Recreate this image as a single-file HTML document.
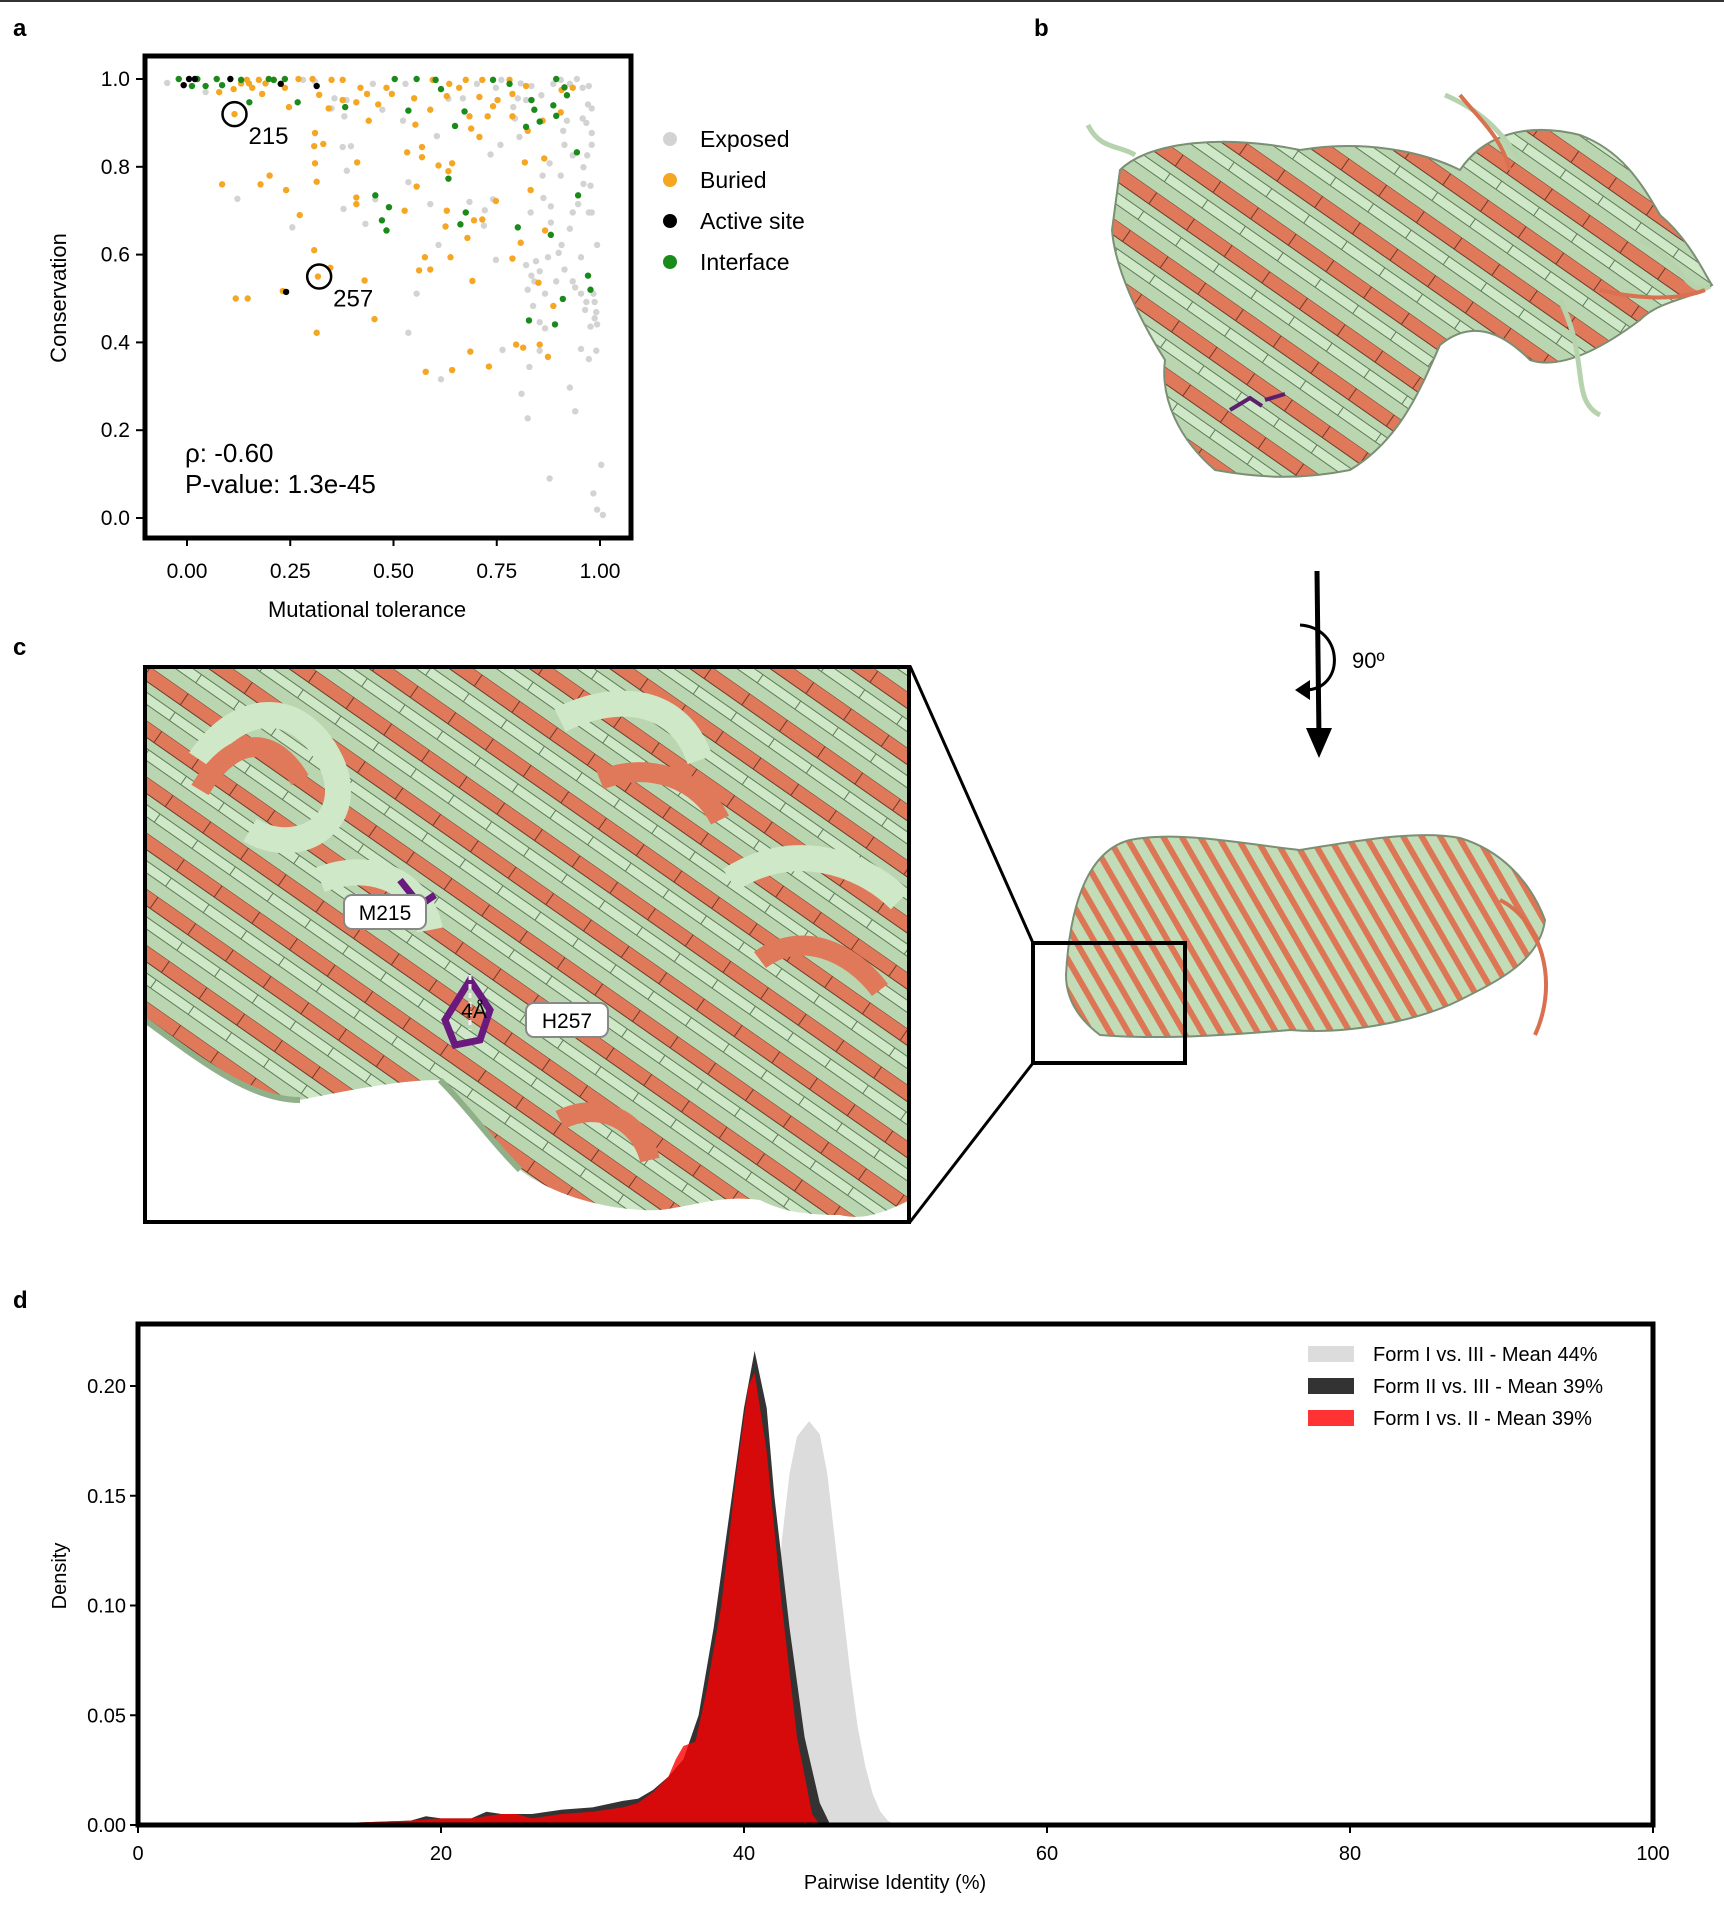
<!DOCTYPE html>
<html><head><meta charset="utf-8">
<style>
html,body{margin:0;padding:0;background:#fff;}
body{width:1724px;height:1905px;overflow:hidden;font-family:"Liberation Sans",Arial,sans-serif;}
svg text{font-family:"Liberation Sans",Arial,sans-serif;}
</style></head>
<body>
<svg id="fig" width="1724" height="1905" viewBox="0 0 1724 1905" xmlns="http://www.w3.org/2000/svg">
<defs>
<pattern id="rib" width="46" height="46" patternUnits="userSpaceOnUse" patternTransform="rotate(35)">
<rect width="46" height="46" fill="#b9d6b0"/>
<rect y="0" width="46" height="14" fill="#e0795a" stroke="#6d3a2a" stroke-width="1"/>
<rect y="23" width="46" height="10" fill="#cfe9c8" stroke="#5d7a58" stroke-width="1"/>
</pattern>
<pattern id="rib2" width="16" height="16" patternUnits="userSpaceOnUse" patternTransform="rotate(60)">
<rect width="16" height="16" fill="#c3dcb8"/>
<rect y="0" width="16" height="6" fill="#dd7654"/>
</pattern>
</defs>
<line x1="0" y1="1" x2="1724" y2="1" stroke="#333" stroke-width="2"/>
<g font-weight="bold" font-size="24">
<text x="13" y="36">a</text>
<text x="1034" y="36">b</text>
<text x="13" y="655">c</text>
<text x="13" y="1308">d</text>
</g>

<g>
<path d="M1120,170 C1150,140 1230,135 1300,150 C1360,140 1420,150 1460,170 C1480,140 1520,120 1580,135 C1620,150 1640,180 1660,215 C1690,240 1705,275 1712,285 C1690,300 1660,300 1640,320 C1600,350 1560,370 1530,360 C1500,330 1470,320 1440,345 C1420,390 1400,440 1350,470 C1300,480 1260,478 1215,470 C1180,440 1160,400 1165,360 C1140,320 1115,270 1112,230 Z" fill="url(#rib)" stroke="#7a8f74" stroke-width="2"/>
<path d="M1088,125 C1100,150 1120,145 1135,155 M1445,95 C1480,110 1500,130 1520,160 M1560,300 C1590,360 1570,400 1600,415 M1640,240 C1680,260 1690,300 1710,286" fill="none" stroke="#b7d3ad" stroke-width="5"/>
<path d="M1460,95 C1480,120 1500,135 1510,170 M1600,290 C1640,300 1680,300 1705,290" fill="none" stroke="#d9704f" stroke-width="4"/>
<path d="M1230,410 l20,-12 l12,8 M1265,400 l20,-6" fill="none" stroke="#5b1f6e" stroke-width="4"/>
</g>
<g>
<line x1="1317" y1="571" x2="1319" y2="738" stroke="#000" stroke-width="5"/>
<polygon points="1306,728 1332,728 1319,758" fill="#000"/>
<path d="M1300,625 C1345,628 1345,690 1305,690" fill="none" stroke="#000" stroke-width="3"/>
<polygon points="1295,690 1310,680 1310,700" fill="#000"/>
<text x="1352" y="668" font-size="22">90º</text>
</g>
<g>
<path d="M1066,975 C1070,900 1090,850 1130,840 C1180,830 1250,845 1300,850 C1360,840 1420,830 1460,838 C1500,850 1530,880 1545,920 C1540,960 1500,980 1460,1000 C1420,1020 1350,1035 1290,1030 C1230,1035 1160,1040 1100,1035 C1080,1020 1066,1000 1066,975 Z" fill="url(#rib2)" stroke="#7a8f74" stroke-width="2"/>
<path d="M1500,900 C1540,920 1560,980 1535,1035" fill="none" stroke="#d9704f" stroke-width="4"/>
</g>
<rect x="1033" y="943" width="152" height="120" fill="none" stroke="#000" stroke-width="4"/>
<line x1="910" y1="666" x2="1033" y2="943" stroke="#000" stroke-width="3"/>
<line x1="910" y1="1222" x2="1033" y2="1063" stroke="#000" stroke-width="3"/>

<g>
<clipPath id="cclip"><rect x="145" y="667" width="763" height="553"/></clipPath>
<g clip-path="url(#cclip)">
<path d="M145,667 L910,667 L910,1200 C880,1215 860,1220 840,1215 C800,1215 780,1210 760,1200 C720,1195 700,1205 660,1210 C620,1212 560,1200 520,1170 C490,1140 470,1110 440,1080 C400,1080 350,1090 300,1100 C250,1100 200,1060 145,1020 Z" fill="url(#rib)"/>
<path d="M145,1020 C200,1060 250,1100 300,1100 M440,1080 C470,1110 490,1140 520,1170" fill="none" stroke="#8fb089" stroke-width="6"/>
<path d="M200,760 C240,700 300,700 330,760 C360,820 300,860 250,830 M560,720 C620,690 680,700 700,760 M730,880 C790,840 860,860 900,900 M320,880 C370,860 420,880 430,930" fill="none" stroke="#cfe9c8" stroke-width="26"/>
<path d="M200,790 C230,740 270,730 300,780 M600,780 C650,760 700,780 720,820 M760,960 C800,930 850,950 880,990 M560,1120 C600,1100 640,1120 650,1160" fill="none" stroke="#e0795a" stroke-width="20"/>
<path d="M400,880 l20,25 l15,-10 M470,980 l20,30 l-10,30 l-25,5 l-10,-25 Z" fill="none" stroke="#6a1a7e" stroke-width="7"/>
<line x1="470" y1="975" x2="470" y2="1030" stroke="#eee" stroke-width="3" stroke-dasharray="5,4"/>
</g>
<rect x="344" y="895" width="82" height="34" rx="8" fill="#fff" stroke="#888" stroke-width="2"/>
<text x="385" y="920" font-size="21" text-anchor="middle">M215</text>
<rect x="526" y="1003" width="82" height="34" rx="8" fill="#fff" stroke="#888" stroke-width="2"/>
<text x="567" y="1028" font-size="21" text-anchor="middle">H257</text>
<text x="474" y="1018" font-size="21" text-anchor="middle">4Å</text>
<rect x="145" y="667" width="764" height="555" fill="none" stroke="#000" stroke-width="4"/>
</g>

<g id="scatter"></g>
<g id="density"></g>
</svg>
<script>
const exposedPts=[[-0.048,0.991],[0.045,0.97],[0.122,0.727],[0.255,0.662],[0.35,0.933],[0.357,0.956],[0.381,0.915],[0.386,0.952],[0.377,0.845],[0.397,0.847],[0.387,0.791],[0.379,0.704],[0.432,0.67],[0.456,0.726],[0.473,0.93],[0.523,0.905],[0.536,0.765],[0.556,0.511],[0.536,0.422],[0.589,0.715],[0.605,0.87],[0.609,0.622],[0.615,0.316],[0.633,0.955],[0.668,0.956],[0.684,0.72],[0.719,0.666],[0.721,0.701],[0.735,0.828],[0.741,0.726],[0.759,0.85],[0.748,0.588],[0.764,0.383],[0.79,0.936],[0.801,0.956],[0.794,0.91],[0.805,0.868],[0.808,0.99],[0.81,0.283],[0.825,0.227],[0.829,0.344],[0.821,0.576],[0.832,0.696],[0.838,0.483],[0.841,0.539],[0.845,0.585],[0.854,0.562],[0.861,0.78],[0.863,0.729],[0.867,0.511],[0.867,0.432],[0.878,0.09],[0.874,0.594],[0.881,0.673],[0.881,0.71],[0.894,0.539],[0.90,0.604],[0.907,0.622],[0.905,0.78],[0.911,0.882],[0.914,0.85],[0.92,0.905],[0.927,0.659],[0.927,0.297],[0.934,0.539],[0.934,0.826],[0.934,0.696],[0.94,0.243],[0.94,0.525],[0.954,0.385],[0.947,0.715],[0.96,0.799],[0.96,0.761],[0.964,0.474],[0.967,0.90],[0.969,0.826],[0.973,0.362],[0.977,0.436],[0.973,0.696],[0.98,0.877],[0.98,0.85],[0.977,0.757],[0.98,0.696],[0.984,0.511],[0.987,0.455],[0.991,0.381],[0.993,0.441],[0.991,0.469],[0.987,0.492],[0.984,0.056],[0.993,0.019],[1.007,0.007],[1.003,0.121],[0.98,0.933],[0.944,1.0],[0.973,0.984],[0.958,0.98],[0.887,0.989],[0.858,0.963],[0.834,0.984],[0.821,0.952],[0.854,0.446],[0.854,0.381],[0.834,0.552],[0.914,0.566],[0.954,0.511],[0.967,0.492],[0.878,0.808],[0.825,0.52],[0.954,0.594],[0.971,0.942],[0.958,0.91],[0.993,0.622],[0.281,0.998],[0.31,0.994],[0.45,0.989],[0.529,0.989],[0.702,0.989],[0.748,0.98],[0.761,0.998],[0.905,0.998],[0.927,0.989]];
const buriedPts=[[0.085,0.76],[0.115,0.92],[0.178,0.76],[0.20,0.78],[0.24,0.747],[0.273,0.69],[0.308,0.61],[0.317,0.55],[0.347,0.57],[0.31,0.808],[0.314,0.766],[0.31,0.877],[0.33,0.852],[0.308,0.847],[0.118,0.50],[0.147,0.50],[0.232,0.517],[0.314,0.422],[0.43,0.541],[0.454,0.453],[0.412,0.81],[0.41,0.73],[0.41,0.715],[0.527,0.70],[0.533,0.833],[0.556,0.755],[0.569,0.845],[0.569,0.822],[0.576,0.594],[0.562,0.564],[0.589,0.566],[0.609,0.803],[0.642,0.808],[0.633,0.79],[0.629,0.70],[0.626,0.664],[0.638,0.594],[0.642,0.337],[0.578,0.333],[0.679,0.638],[0.684,0.915],[0.695,0.678],[0.688,0.887],[0.708,0.868],[0.715,0.68],[0.691,0.54],[0.686,0.379],[0.731,0.345],[0.748,0.722],[0.788,0.591],[0.808,0.627],[0.818,0.81],[0.832,0.747],[0.851,0.536],[0.865,0.819],[0.867,0.655],[0.874,0.367],[0.854,0.395],[0.887,0.483],[0.797,0.395],[0.814,0.388],[0.825,0.882],[0.788,0.915],[0.741,0.938],[0.752,0.952],[0.708,0.959],[0.728,0.915],[0.659,0.98],[0.629,0.961],[0.589,0.93],[0.55,0.956],[0.553,0.896],[0.483,0.98],[0.496,0.966],[0.463,0.942],[0.436,0.966],[0.41,0.947],[0.377,0.952],[0.343,0.933],[0.32,0.964],[0.44,0.905],[0.42,0.98],[0.377,0.998],[0.35,0.998],[0.304,1.0],[0.247,0.936],[0.182,0.966],[0.158,0.98],[0.131,0.99],[0.113,0.977],[0.078,0.97],[0.174,0.998],[0.21,0.998],[0.821,0.984],[0.781,0.998],[0.715,0.998],[0.675,0.998],[0.635,0.989],[0.595,0.998],[0.907,0.975],[0.934,0.98],[0.861,0.905],[0.905,0.924],[0.788,0.966],[0.145,0.998],[0.19,0.99],[0.237,0.98],[0.27,1.0],[0.15,0.99]];
const interfacePts=[[-0.02,1.0],[0.012,0.984],[0.045,0.984],[0.072,1.0],[0.085,0.986],[0.151,0.947],[0.198,1.0],[0.237,1.0],[0.268,0.947],[0.383,0.936],[0.503,1.0],[0.556,1.0],[0.602,0.998],[0.615,0.977],[0.536,0.928],[0.649,0.893],[0.672,0.926],[0.633,0.773],[0.456,0.735],[0.489,0.708],[0.472,0.678],[0.483,0.655],[0.675,0.696],[0.662,0.669],[0.741,0.998],[0.781,0.989],[0.821,0.891],[0.834,0.952],[0.841,0.93],[0.854,0.903],[0.887,0.94],[0.894,0.916],[0.894,1.0],[0.914,0.981],[0.92,0.963],[0.944,0.833],[0.947,0.735],[0.801,0.662],[0.881,0.645],[0.828,0.45],[0.891,0.441],[0.91,0.499],[0.971,0.552],[0.977,0.52],[0.025,1.0],[0.131,0.998],[0.21,0.998]];
const activePts=[[-0.008,0.986],[0.005,1.0],[0.019,1.0],[0.105,1.0],[0.227,0.989],[0.314,0.984],[0.24,0.515]];
const xTicksA=[0,0.25,0.5,0.75,1.0];
const xTickLabelsA=["0.00","0.25","0.50","0.75","1.00"];
const yTicksA=[0,0.2,0.4,0.6,0.8,1.0];
const yTickLabelsA=["0.0","0.2","0.4","0.6","0.8","1.0"];
const legendA=["Exposed","Buried","Active site","Interface"];
const highlightA=[[0.115,0.92,"215"],[0.32,0.55,"257"]];

const densX1=[8,20,30,36,38,39,40,41,42,42.5,43,43.5,44.3,45,45.5,46,46.5,47,47.5,48,48.5,49,49.5,50,51];
const densY1=[0,0.001,0.002,0.003,0.004,0.008,0.02,0.05,0.09,0.13,0.16,0.177,0.184,0.178,0.16,0.13,0.1,0.07,0.045,0.027,0.014,0.006,0.002,0,0];
const densX2=[8,10,14,18,19,20,22,23,24,26,28,30,32,33,34,35,36,37,38,39,40,40.7,41.5,42,43,44,45,45.7];
const densY2=[0,0.001,0.001,0.002,0.004,0.003,0.003,0.006,0.005,0.005,0.007,0.008,0.011,0.012,0.016,0.022,0.03,0.05,0.09,0.14,0.19,0.216,0.19,0.15,0.09,0.04,0.01,0];
const densX3=[8,10,14,18,20,22,24,25,26,28,30,32,33,34,35,35.5,36,36.8,37.5,38.5,39.5,40.3,40.7,41.5,42.5,43.5,44.5,45];
const densY3=[0,0.001,0.001,0.002,0.003,0.003,0.005,0.005,0.003,0.005,0.006,0.008,0.01,0.015,0.022,0.03,0.036,0.038,0.06,0.1,0.16,0.2,0.206,0.17,0.1,0.04,0.005,0];
const xTicksD=[0,20,40,60,80,100];
const yTicksD=[0,0.05,0.10,0.15,0.20];
const yTickLabelsD=["0.00","0.05","0.10","0.15","0.20"];
const legendD=["Form I vs. III - Mean 44%","Form II vs. III - Mean 39%","Form I vs. II - Mean 39%"];

const NS="http://www.w3.org/2000/svg";
function mk(parent,tag,attrs,txt){const e=document.createElementNS(NS,tag);for(const k in attrs)e.setAttribute(k,attrs[k]);if(txt!==undefined)e.textContent=txt;parent.appendChild(e);return e;}

const sa=document.getElementById('scatter');
const ax=v=>187+v*413, ay=v=>518-v*439;
function dots(pts,col,name){
  const g=mk(sa,'g',{});
  
  
  pts.forEach(p=>{const c=mk(g,'circle',{cx:ax(p[0]),cy:ay(p[1]),r:3.2,fill:col});
    
    });
}
dots(exposedPts,'#d3d3d3','exposed-series');
dots(buriedPts,'#f5a623','buried-series');
dots(interfacePts,'#1a8a1a','interface-series');
dots(activePts,'#000','active-site-series');
highlightA.forEach(h=>{
  const c=mk(sa,'circle',{cx:ax(h[0]),cy:ay(h[1]),r:12,fill:'none',stroke:'#000','stroke-width':2.5});
  
  
  const t=mk(sa,'text',{x:ax(h[0])+14,y:ay(h[1])+30,'font-size':24},h[2]);
  
  
});
const fa=mk(sa,'rect',{x:145,y:56,width:486,height:482,fill:'none',stroke:'#000','stroke-width':5});


xTicksA.forEach((v,i)=>{
  mk(sa,'line',{x1:ax(v),y1:540,x2:ax(v),y2:546,stroke:'#000','stroke-width':2});
  const t=mk(sa,'text',{x:ax(v),y:578,'font-size':21,'text-anchor':'middle'},xTickLabelsA[i]);
  
  
});
yTicksA.forEach((v,i)=>{
  mk(sa,'line',{x1:136,y1:ay(v),x2:143,y2:ay(v),stroke:'#000','stroke-width':2});
  const t=mk(sa,'text',{x:130,y:ay(v)+7,'font-size':21,'text-anchor':'end'},yTickLabelsA[i]);
  
  
});
let t1=mk(sa,'text',{x:367,y:617,'font-size':22,'text-anchor':'middle'},'Mutational tolerance');


let t2=mk(sa,'text',{x:0,y:0,'font-size':22,'text-anchor':'middle',transform:'translate(66,298) rotate(-90)'},'Conservation');


let t3=mk(sa,'text',{x:185,y:462,'font-size':26},'ρ: -0.60');


let t4=mk(sa,'text',{x:185,y:493,'font-size':26},'P-value: 1.3e-45');


const legColA=['#d3d3d3','#f5a623','#000','#1a8a1a'];
legendA.forEach((s,i)=>{
  const y=139+i*41;
  const c=mk(sa,'circle',{cx:670,cy:y,r:7,fill:legColA[i]});
  
  
  const t=mk(sa,'text',{x:700,y:y+8,'font-size':23},s);
  
  
});

const sd=document.getElementById('density');
const dx=v=>138+v*15.15, dy=v=>1825-v*2195;
function area(xs,ys,fill,name){
  let d='M'+dx(xs[0])+','+dy(0);
  xs.forEach((x,i)=>{d+=' L'+dx(x).toFixed(1)+','+dy(ys[i]).toFixed(1);});
  d+=' L'+dx(xs[xs.length-1])+','+dy(0)+' Z';
  const p=mk(sd,'path',{d:d,fill:fill,'stroke-linejoin':'round'});
  
  
}
area(densX1,densY1,'#dcdcdc','density-form-i-vs-iii');
area(densX2,densY2,'#333333','density-form-ii-vs-iii');
area(densX3,densY3,'rgba(255,0,0,0.8)','density-form-i-vs-ii');
const fd=mk(sd,'rect',{x:138,y:1324,width:1515,height:501,fill:'none',stroke:'#000','stroke-width':5});


xTicksD.forEach(v=>{
  mk(sd,'line',{x1:dx(v),y1:1827,x2:dx(v),y2:1833,stroke:'#000','stroke-width':2});
  const t=mk(sd,'text',{x:dx(v),y:1860,'font-size':20,'text-anchor':'middle'},String(v));
  
  
});
yTicksD.forEach((v,i)=>{
  mk(sd,'line',{x1:130,y1:dy(v),x2:136,y2:dy(v),stroke:'#000','stroke-width':2});
  const t=mk(sd,'text',{x:126,y:dy(v)+7,'font-size':20,'text-anchor':'end'},yTickLabelsD[i]);
  
  
});
let t5=mk(sd,'text',{x:895,y:1889,'font-size':20,'text-anchor':'middle'},'Pairwise Identity (%)');


let t6=mk(sd,'text',{x:0,y:0,'font-size':20,'text-anchor':'middle',transform:'translate(66,1576) rotate(-90)'},'Density');


const legColD=['#dcdcdc','#333333','#ff3333'];
legendD.forEach((s,i)=>{
  const y=1354+i*32;
  const r=mk(sd,'rect',{x:1308,y:y-8,width:46,height:16,fill:legColD[i]});
  
  
  const t=mk(sd,'text',{x:1373,y:y+7,'font-size':20},s);
  
  
});
</script>
</body></html>
